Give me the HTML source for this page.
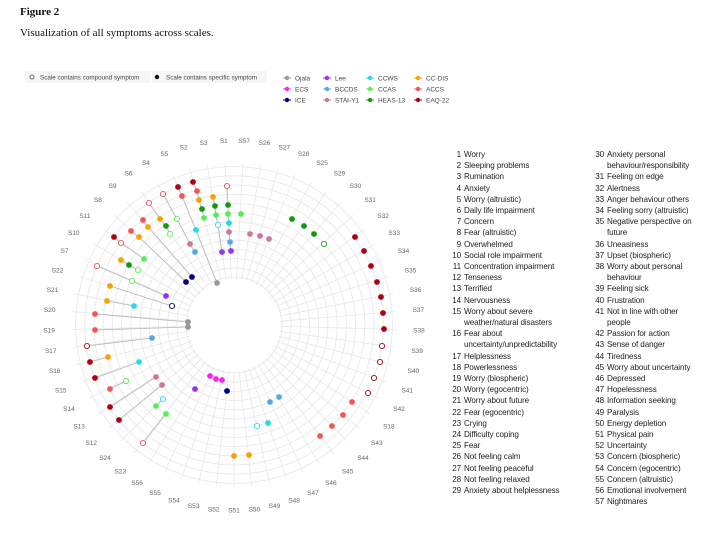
<!DOCTYPE html>
<html><head><meta charset="utf-8"><style>
body{margin:0;background:#fff;width:710px;height:533px;overflow:hidden;position:relative;font-family:"Liberation Sans",sans-serif}
.h1{position:absolute;left:20px;top:6px;font:bold 11px "Liberation Serif",serif;color:#111}
.h2{position:absolute;left:20px;top:27px;font:11px "Liberation Serif",serif;color:#111}
.col{position:absolute;top:149px;font-size:8.1px;line-height:11.2px;color:#222;letter-spacing:-0.1px}
.col div{position:relative;padding-left:12px}
.col span{position:absolute;left:-6px;width:15px;text-align:right}
</style></head><body>
<div class="h1">Figure 2</div>
<div class="h2">Visualization of all symptoms across scales.</div>
<svg id="s" width="710" height="533" style="position:absolute;left:0;top:0"></svg>
<div class="col" style="left:452px;width:124px" id="c1"></div>
<div class="col" style="left:595px;width:108px" id="c2"></div>
<script>
const c1=[["1","Worry"],["2","Sleeping problems"],["3","Rumination"],["4","Anxiety"],["5","Worry (altruistic)"],["6","Daily life impairment"],["7","Concern"],["8","Fear (altruistic)"],["9","Overwhelmed"],["10","Social role impairment"],["11","Concentration impairment"],["12","Tenseness"],["13","Terrified"],["14","Nervousness"],["15","Worry about severe weather/natural disasters"],["16","Fear about uncertainty/unpredictability"],["17","Helplessness"],["18","Powerlessness"],["19","Worry (biospheric)"],["20","Worry (egocentric)"],["21","Worry about future"],["22","Fear (egocentric)"],["23","Crying"],["24","Difficulty coping"],["25","Fear"],["26","Not feeling calm"],["27","Not feeling peaceful"],["28","Not feeling relaxed"],["29","Anxiety about helplessness"]];
const c2=[["30","Anxiety personal behaviour/responsibility"],["31","Feeling on edge"],["32","Alertness"],["33","Anger behaviour others"],["34","Feeling sorry (altruistic)"],["35","Negative perspective on future"],["36","Uneasiness"],["37","Upset (biospheric)"],["38","Worry about personal behaviour"],["39","Feeling sick"],["40","Frustration"],["41","Not in line with other people"],["42","Passion for action"],["43","Sense of danger"],["44","Tiredness"],["45","Worry about uncertainty"],["46","Depressed"],["47","Hopelessness"],["48","Information seeking"],["49","Paralysis"],["50","Energy depletion"],["51","Physical pain"],["52","Uncertainty"],["53","Concern (biospheric)"],["54","Concern (egocentric)"],["55","Concern (altruistic)"],["56","Emotional involvement"],["57","Nightmares"]];
function fill(id,a){document.getElementById(id).innerHTML=a.map(x=>`<div><span>${x[0]}</span>${x[1]}</div>`).join('')}
fill('c1',c1);fill('c2',c2);
const S=document.getElementById('s');let h='';
const cx=234,cy=325;
const lab=["S1","S57","S26","S27","S28","S25","S29","S30","S31","S32","S33","S34","S35","S36","S37","S38","S39","S40","S41","S42","S18","S43","S44","S45","S46","S47","S48","S49","S50","S51","S52","S53","S54","S55","S56","S23","S24","S12","S13","S14","S15","S16","S17","S19","S20","S21","S22","S7","S10","S11","S8","S9","S6","S4","S5","S2","S3"];
for(let k=0;k<13;k++){h+=`<circle cx="${cx}" cy="${cy}" r="${48+k*9.2}" fill="none" stroke="#e6e6e6" stroke-width="0.8"/>`}
lab.forEach((l,i)=>{const a=(i*360/57-3.16)*Math.PI/180,s=Math.sin(a),c=Math.cos(a);
h+=`<line x1="${cx+46*s}" y1="${cy-46*c}" x2="${cx+162*s}" y2="${cy-162*c}" stroke="#e6e6e6" stroke-width="0.8"/>`;
h+=`<text x="${cx+185*s}" y="${cy-185*c+2.5}" font-size="6.5" fill="#666" text-anchor="middle">${l}</text>`;});
const C={g:"#999",p:"#9933ee",n:"#00008b",m:"#ff22ee",b:"#55a8e8",k:"#cc77a0",c:"#22dde8",l:"#55ee55",d:"#119911",o:"#f5a300",r:"#f55555",R:"#b00010"};
const D=[[193,182,'R'],[178,187,'R'],[197,191,'r'],[182,196,'r'],[163,194,'r',1],[213,197,'o'],[199,200,'o'],[227,186,'r',1],[228,205,'d'],[215,206,'d'],[202,209,'d'],[241,214,'l'],[228,214,'l'],[216,215,'l'],[204,218,'l'],[149,203,'r',1],[143,220,'r'],[160,219,'o'],[177,219,'l',1],[131,231,'r'],[148,227,'o'],[166,226,'d'],[170,234,'l',1],[229,223,'c'],[218,225,'c',1],[196,230,'c'],[229,232,'k'],[250,234,'k'],[260,236,'k'],[269,239,'k'],[114,237,'R'],[121,243,'r',1],[139,237,'o'],[190,244,'k'],[195,252,'b'],[230,242,'b'],[222,252,'p'],[231,251,'p'],[97,266,'r',1],[121,260,'o'],[129,265,'d'],[138,270,'l',1],[144,259,'l'],[132,281,'l',1],[192,277,'n'],[186,282,'n'],[217,283,'g'],[110,286,'o'],[107,301,'o'],[134,306,'c'],[166,296,'p'],[172,306,'n',1],[95,314,'r'],[95,330,'r'],[188,322,'g'],[188,327,'g'],
[292,219,'d'],[304,226,'d'],[314,234,'d'],[324,244,'d',1],
[355,237,'R'],[364,251,'R'],[371,266,'R'],[377,282,'R'],[381,297,'R'],[383,313,'R'],[384,329,'R'],[382,346,'R',1],[380,362,'R',1],[374,378,'R',1],[368,393,'R',1],
[352,402,'r'],[343,415,'r'],[332,426,'r'],[320,436,'r'],[210,376,'m'],[216,379,'m'],[222,380,'m'],[227,391,'n'],[270,402,'b'],[279,397,'b'],[257,426,'c',1],[268,423,'c'],[234,456,'o'],[249,455,'o'],
[152,338,'b'],[87,346,'R',1],[90,362,'R'],[108,357,'o'],[139,362,'c'],[95,378,'R'],[126,381,'l',1],[156,377,'k'],[162,385,'k'],[110,389,'r'],[163,399,'c',1],[156,406,'l'],[166,414,'l'],[110,407,'R'],[119,420,'R'],[143,443,'r',1],[195,389,'p']];
const G={};D.forEach(d=>{let a=Math.atan2(d[0]-cx,-(d[1]-cy))*180/Math.PI;if(a<0)a+=360;const i=Math.round((a+3.16)/(360/57))%57;const r=Math.hypot(d[0]-cx,d[1]-cy);(G[i]=G[i]||[]).push([r,d[0],d[1]]);});
for(const i in G){const g=G[i].sort((a,b)=>a[0]-b[0]);if(g.length>1){h+=`<polyline points="${g.map(p=>p[1]+','+p[2]).join(' ')}" fill="none" stroke="#b5b5b5" stroke-width="0.8"/>`}}
D.forEach(d=>{const col=C[d[2]];h+=d[3]?`<circle cx="${d[0]}" cy="${d[1]}" r="2.6" fill="#fff" stroke="${col}" stroke-width="0.9"/>`:`<circle cx="${d[0]}" cy="${d[1]}" r="2.9" fill="${col}"/>`});
h+=`<rect x="25" y="71" width="125" height="12" fill="#f6f6f6"/><circle cx="32" cy="77" r="2" fill="#fff" stroke="#444" stroke-width="0.8"/><text x="40" y="79.5" font-size="6.3" fill="#444">Scale contains compound symptom</text>`;
h+=`<rect x="152" y="71" width="115" height="12" fill="#f6f6f6"/><circle cx="157" cy="77" r="2.2" fill="#111"/><text x="166" y="79.5" font-size="6.3" fill="#444">Scale contains specific symptom</text>`;
const L=[["Ojala",'g',0,0],["ECS",'m',0,1],["ICE",'n',0,2],["Lee",'p',1,0],["BCCDS",'b',1,1],["STAI-Y1",'k',1,2],["CCWS",'c',2,0],["CCAS",'l',2,1],["HEAS-13",'d',2,2],["CC-DIS",'o',3,0],["ACCS",'r',3,1],["EAQ-22",'R',3,2]];
const LX=[287,327,370,418];
L.forEach(l=>{const x=LX[l[2]],y=78+l[3]*11;h+=`<line x1="${x-4}" y1="${y}" x2="${x+4}" y2="${y}" stroke="${C[l[1]]}" stroke-width="1"/><circle cx="${x}" cy="${y}" r="2.2" fill="${C[l[1]]}"/><text x="${x+8}" y="${y+2.3}" font-size="6.5" fill="#444">${l[0]}</text>`});
S.innerHTML=h;
</script>
</body></html>
